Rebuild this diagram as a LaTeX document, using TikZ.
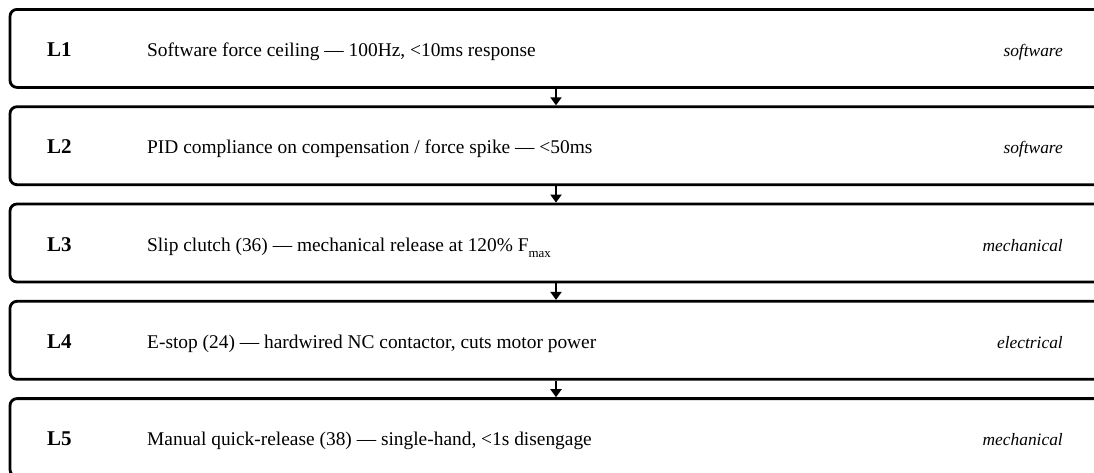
\documentclass[tikz,border=0pt]{standalone}
\usepackage{fontspec}
\setmainfont{Liberation Serif}
\usetikzlibrary{arrows.meta}
\begin{document}
\begin{tikzpicture}[x=1pt,y=-1pt,
  layer/.style={draw=black, line width=2.8pt, rounded corners=7pt, minimum width=1092pt, minimum height=78pt, anchor=north, inner sep=0pt},
  tag/.style={font=\fontsize{21}{24}\selectfont\bfseries, anchor=base west, inner sep=0pt},
  desc/.style={font=\fontsize{19.4}{23}\selectfont, anchor=base west, inner sep=0pt},
  kind/.style={font=\fontsize{17.4}{20}\selectfont\itshape, anchor=base east, inner sep=0pt},
  flow/.style={-{Triangle[length=8pt,width=11pt]}, line width=2.2pt}]
\clip (0,0) rectangle (1094,472);
\node[layer] (b1) at (556,8) {};
\node[layer] (b2) at (556,105.3) {};
\node[layer] (b3) at (556,202.6) {};
\node[layer] (b4) at (556,299.9) {};
\node[layer] (b5) at (556,397.2) {};
\foreach \i/\t/\d/\k in {
  1/L1/{Software force ceiling — 100Hz, <10ms response}/software,
  2/L2/{PID compliance on compensation / force spike — <50ms}/software,
  3/L3/{Slip clutch (36) — mechanical release at 120\% F\raisebox{-6pt}{\fontsize{13}{14}\selectfont max}}/mechanical,
  4/L4/{E-stop (24) — hardwired NC contactor, cuts motor power}/electrical,
  5/L5/{Manual quick-release (38) — single-hand, <1s disengage}/mechanical} {
  \node[tag] (t\i) at (47, 8+97.3*\i-97.3+48.6) {\t};
  \node[desc] (d\i) at (147, 8+97.3*\i-97.3+48.6) {\d};
  \node[kind] (k\i) at (1063, 8+97.3*\i-97.3+48.6) {\k};
}
\draw[flow] (b1.south) -- (b2.north);
\draw[flow] (b2.south) -- (b3.north);
\draw[flow] (b3.south) -- (b4.north);
\draw[flow] (b4.south) -- (b5.north);
\end{tikzpicture}
\end{document}
